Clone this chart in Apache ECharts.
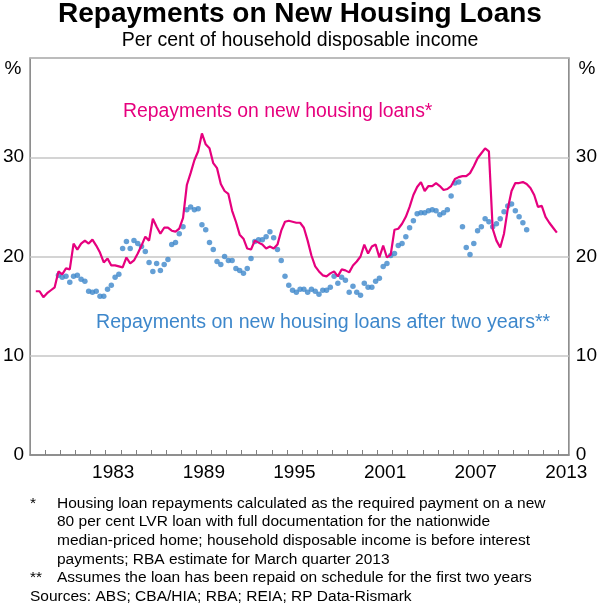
<!DOCTYPE html>
<html><head><meta charset="utf-8">
<script src="https://cdn.jsdelivr.net/npm/echarts@6/dist/echarts.min.js"></script>
<style>html,body{margin:0;padding:0;background:#fff}#c{width:600px;height:609px}</style>
</head><body><div id="c"></div>
<script>
// Repayments on new housing loans (quarterly, from Q2 1978)
const loanStart = [1978, 2];
const loanValues = [
  16.5, 16.5, 15.9,
  16.3, 16.6, 16.9, 18.5,
  18.2, 18.8, 18.7, 21.3,
  20.7, 21.3, 21.6, 21.3,
  21.7, 21.1, 20.4, 19.4,
  19.8, 19.1, 19.1, 19.0,
  18.9, 19.9, 19.3, 19.6,
  20.3, 21.1, 22.0, 21.6,
  23.8, 23.0, 22.3, 22.9,
  22.9, 22.6, 22.5, 22.8,
  23.9, 27.2, 28.4, 29.7,
  30.6, 32.4, 31.3, 30.9,
  29.4, 28.9, 27.3, 26.6,
  26.3, 24.6, 23.5, 22.2,
  21.8, 20.8, 20.7, 21.6,
  21.4, 21.2, 20.8, 21.0,
  20.8, 21.2, 22.6, 23.5,
  23.6, 23.5, 23.4, 23.4,
  22.9, 21.6, 20.1, 19.0,
  18.5, 18.1, 18.0, 18.3,
  18.5, 18.0, 18.7, 18.6,
  18.4, 19.1, 19.5, 20.0,
  21.2, 20.3, 21.0, 21.2,
  19.9, 21.1, 19.9, 20.2,
  22.7, 22.8, 23.3, 24.0,
  25.0, 26.2, 27.0, 27.5,
  26.6, 27.1, 27.1, 27.4,
  27.1, 26.7, 26.8, 27.1,
  27.8, 28.0, 28.1, 28.1,
  28.4, 29.1, 29.9, 30.4,
  30.9, 30.6, 22.8, 21.6,
  20.9, 22.3, 24.8, 26.6,
  27.4, 27.4, 27.5, 27.3,
  26.9, 26.2, 25.0, 25.1,
  24.0, 23.4, 22.9, 22.4
];
// Repayments after two years (quarterly, from Q4 1979)
const afterStart = [1979, 4];
const afterValues = [
  18.1,
  17.9, 18.0, 17.4, 18.0,
  18.1, 17.7, 17.5, 16.5,
  16.4, 16.5, 16.0, 16.0,
  16.7, 17.1, 17.9, 18.2,
  20.8, 21.5, 20.8, 21.6,
  21.3, 21.0, 20.5, 19.4,
  18.5, 19.3, 18.6, 19.2,
  19.7, 21.2, 21.4, 22.3,
  23.0, 24.7, 25.0, 24.7,
  24.8, 23.2, 22.7, 21.4,
  20.7, 19.5, 19.2, 20.0,
  19.6, 19.6, 18.8, 18.6,
  18.3, 18.8, 19.8, 21.5,
  21.7, 21.7, 22.0, 22.5,
  21.9, 20.7, 19.6, 18.0,
  17.1, 16.6, 16.4, 16.7,
  16.7, 16.4, 16.7, 16.5,
  16.2, 16.6, 16.6, 16.9,
  18.0, 17.3, 17.9, 17.6,
  16.4, 17.0, 16.4, 16.1,
  17.3, 16.9, 16.9, 17.5,
  17.8, 19.0, 19.3, 20.1,
  20.3, 21.1, 21.3, 22.0,
  22.9, 23.6, 24.3, 24.4,
  24.4, 24.6, 24.7, 24.6,
  24.2, 24.4, 24.7, 26.1,
  27.4, 27.5, 23.0, 20.9,
  20.2, 21.3, 22.6, 23.0,
  23.8, 23.5, 23.0, 23.3,
  23.8, 24.5, 25.1, 25.3,
  24.6, 24.0, 23.4, 22.7
];
const labelYears = [1983, 1989, 1995, 2001, 2007, 2013];
const tickYears = [];
for (let y = 1979; y <= 2013; y++) tickYears.push(y);

function quarterTimes(start, n) {
  const out = [];
  for (let i = 0; i < n; i++) {
    const q = (start[1] - 1) + i;
    out.push(start[0] + q / 4 + 0.125);
  }
  return out;
}
const loanTimes = quarterTimes(loanStart, loanValues.length);
const afterTimes = quarterTimes(afterStart, afterValues.length);

const FONT = '"Liberation Sans", Arial, Helvetica, sans-serif';
const PINK = '#e6007e';
const BLUE = '#3d87cb';

const chart = echarts.init(document.getElementById('c'), null, {renderer: 'canvas'});

const footLines = [
  ['*', 'Housing loan repayments calculated as the required payment on a new', 503.5],
  ['', '80 per cent LVR loan with full documentation for the nationwide', 522],
  ['', 'median-priced home; household disposable income is before interest', 540.7],
  ['', 'payments; RBA estimate for March quarter 2013', 559.3],
  ['**', 'Assumes the loan has been repaid on schedule for the first two years', 578]
];
const graphics = [
  {type: 'text', style: {text: 'Repayments on New Housing Loans', x: 300, y: 14, align: 'center', verticalAlign: 'middle', font: 'bold 28px ' + FONT, fill: '#000'}},
  {type: 'text', style: {text: 'Per cent of household disposable income', x: 300, y: 41, align: 'center', verticalAlign: 'middle', font: '19.5px ' + FONT, fill: '#000'}},
  {type: 'text', style: {text: '%', x: 13, y: 69, align: 'center', verticalAlign: 'middle', font: '19px ' + FONT, fill: '#000'}},
  {type: 'text', style: {text: '%', x: 587, y: 69, align: 'center', verticalAlign: 'middle', font: '19px ' + FONT, fill: '#000'}},
  {type: 'text', z: 10, style: {text: 'Repayments on new housing loans*', x: 123, y: 112, align: 'left', verticalAlign: 'middle', font: '19.4px ' + FONT, fill: PINK}},
  {type: 'text', z: 10, style: {text: 'Repayments on new housing loans after two years**', x: 96, y: 323, align: 'left', verticalAlign: 'middle', font: '19.6px ' + FONT, fill: BLUE}},
  {type: 'text', style: {text: 'Sources: ABS; CBA/HIA; RBA; REIA; RP Data-Rismark', x: 30, y: 597, align: 'left', verticalAlign: 'middle', font: '15.5px ' + FONT, fill: '#000'}}
];
footLines.forEach(function (f) {
  if (f[0]) graphics.push({type: 'text', style: {text: f[0], x: 30, y: f[2], align: 'left', verticalAlign: 'middle', font: '15.5px ' + FONT, fill: '#000'}});
  graphics.push({type: 'text', style: {text: f[1], x: 57, y: f[2], align: 'left', verticalAlign: 'middle', font: '15.5px ' + FONT, fill: '#000'}});
});

const yAxisBase = {
  type: 'value', min: 0, max: 40, interval: 10,
  axisLine: {show: false}, axisTick: {show: false},
  axisLabel: {formatter: function (v) { return v === 40 ? '' : String(v); }, color: '#000', fontSize: 19, fontFamily: FONT}
};

chart.setOption({
  animation: false,
  backgroundColor: '#fff',
  grid: {left: 30, right: 30, top: 58, bottom: 154, show: true, borderColor: '#808080', borderWidth: 1.5, backgroundColor: 'transparent'},
  xAxis: {
    type: 'value', min: 1978, max: 2013.67,
    axisLine: {show: true, lineStyle: {color: '#808080', width: 1.5}},
    axisTick: {show: true, inside: true, length: 5, customValues: tickYears, lineStyle: {color: '#808080', width: 1}},
    axisLabel: {customValues: labelYears.map(function (y) { return y + 0.5; }), formatter: function (v) { return String(Math.floor(v)); }, color: '#000', fontSize: 19, fontFamily: FONT, margin: 8},
    splitLine: {show: false}
  },
  yAxis: [
    Object.assign({}, yAxisBase, {position: 'left', axisLabel: Object.assign({}, yAxisBase.axisLabel, {margin: 6}), splitLine: {show: true, lineStyle: {color: '#c6c6c6', width: 1.5}}}),
    Object.assign({}, yAxisBase, {position: 'right', axisLabel: Object.assign({}, yAxisBase.axisLabel, {margin: 7}), splitLine: {show: false}})
  ],
  graphic: graphics,
  series: [
    {type: 'scatter', name: 'after', data: afterTimes.map(function (t, i) { return [t, afterValues[i]]; }), symbolSize: 5.5, itemStyle: {color: BLUE}, z: 2},
    {type: 'line', name: 'loans', data: loanTimes.map(function (t, i) { return [t, loanValues[i]]; }), showSymbol: false, lineStyle: {color: PINK, width: 2.2}, z: 3}
  ]
});
</script>
</body></html>
